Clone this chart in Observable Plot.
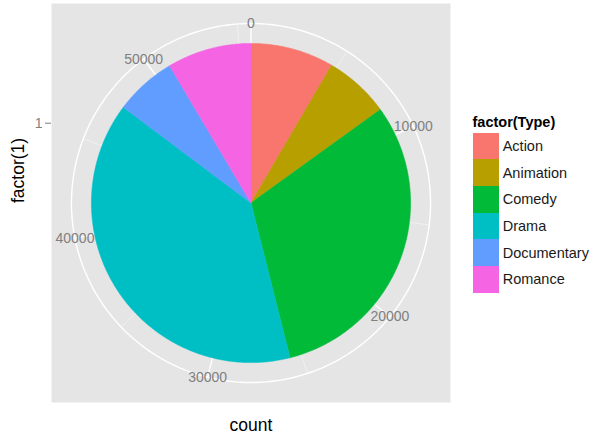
<!DOCTYPE html>
<html>
<head>
<meta charset="utf-8">
<script src="https://cdn.jsdelivr.net/npm/d3@7"></script>
<script src="https://cdn.jsdelivr.net/npm/@observablehq/plot@0.6"></script>
<style>
  html, body { margin: 0; padding: 0; background: #fff; overflow: hidden; }
  #wrap { position: relative; width: 604px; height: 445px; font-family: "Liberation Sans", Arial, sans-serif; }
  #legend { position: absolute; left: 472.5px; top: 114px; }
  #legend .title { font-weight: bold; font-size: 14.5px; line-height: 17px; height: 18.5px; color: #000; white-space: nowrap; }
  #legend .row { display: flex; align-items: center; height: 26.7px; }
  #legend .key { width: 26.7px; height: 26.7px; }
  #legend .lab { margin-left: 3.5px; font-size: 14.5px; color: #1a1a1a; white-space: nowrap; }
</style>
</head>
<body>
<div id="wrap"></div>
<script>
// ---- data ----
const types = ["Action", "Animation", "Comedy", "Drama", "Documentary", "Romance"];
const counts = [4688, 3690, 17271, 21811, 3472, 4744];
const colors = ["#F8766D", "#B79F00", "#00BA38", "#00BFC4", "#619CFF", "#F564E3"];
const thetaBreaks = [0, 10000, 20000, 30000, 40000, 50000];
const thetaMinor = [5000, 15000, 25000, 35000, 45000, 55000];
const rLevels = ["1"];
const legendTitle = "factor(Type)";
const xTitle = "count";
const yTitle = "factor(1)";

// ---- geometry in panel npc units (ggplot coord_polar) ----
const total = d3.sum(counts);
const ang = v => v / total * 2 * Math.PI;
const R = 0.4, ROUT = 0.45;
const px = (r, a) => 0.5 + r * Math.sin(a);
const py = (r, a) => 0.5 + r * Math.cos(a);

const slicePts = [];
let cum = 0;
types.forEach((t, i) => {
  const a0 = ang(cum), a1 = ang(cum + counts[i]);
  cum += counts[i];
  const n = Math.max(2, Math.ceil((a1 - a0) / (Math.PI / 360)) + 1);
  slicePts.push({type: t, x: 0.5, y: 0.5});
  for (let k = 0; k < n; k++) {
    const a = a0 + (a1 - a0) * k / (n - 1);
    slicePts.push({type: t, x: px(R, a), y: py(R, a)});
  }
  slicePts.push({type: t, x: 0.5, y: 0.5});
});

const circlePts = d3.range(0, 361).map(d => ({a: d / 360 * 2 * Math.PI}));
const rPos = rLevels.map((d, i) => 0.5 + (i + 0.5) / rLevels.length * R);

const plot = Plot.plot({
  width: 604,
  height: 445,
  marginLeft: 51,
  marginRight: 154,
  marginTop: 3,
  marginBottom: 43,
  style: {fontFamily: "Liberation Sans, Arial, sans-serif", fontSize: "14px", background: "transparent"},
  x: {domain: [0, 1], axis: null},
  y: {domain: [0, 1]},
  color: {domain: types, range: colors},
  marks: [
    Plot.frame({fill: "#E5E5E5", stroke: "none"}),
    // minor theta grid
    Plot.link(thetaMinor, {x1: () => 0.5, y1: () => 0.5, x2: d => px(ROUT, ang(d)), y2: d => py(ROUT, ang(d)), stroke: "#F2F2F2", strokeWidth: 0.8}),
    // major theta grid
    Plot.link(thetaBreaks, {x1: () => 0.5, y1: () => 0.5, x2: d => px(ROUT, ang(d)), y2: d => py(ROUT, ang(d)), stroke: "#fff", strokeWidth: 1.4}),
    // outer circle
    Plot.line(circlePts, {x: d => px(ROUT, d.a), y: d => py(ROUT, d.a), stroke: "#fff", strokeWidth: 1.4}),
    // pie slices
    Plot.line(slicePts, {x: "x", y: "y", z: "type", fill: "type", stroke: "type", strokeWidth: 0.5, strokeLinejoin: "round"}),
    // theta labels
    Plot.text(thetaBreaks, {x: d => px(ROUT, ang(d)), y: d => py(ROUT, ang(d)), text: d => String(d), fill: "#7F7F7F", fontSize: 14}),
    // r axis
    Plot.axisY(rPos, {tickFormat: (d, i) => rLevels[i] ?? rLevels[0], label: null, tickSize: 6, tickPadding: 3, stroke: "#7F7F7F", fill: "#7F7F7F", fontSize: 14}),
    // axis titles
    Plot.text([xTitle], {frameAnchor: "bottom", dy: 28, text: d => d, fill: "#000", fontSize: 17.5}),
    Plot.text([yTitle], {frameAnchor: "left", dx: -33, rotate: -90, text: d => d, fill: "#000", fontSize: 17.5})
  ]
});

const wrap = document.getElementById("wrap");
wrap.appendChild(plot);

// legend
const color = plot.scale("color");
const lg = document.createElement("div");
lg.id = "legend";
const title = document.createElement("div");
title.className = "title";
title.textContent = legendTitle;
lg.appendChild(title);
color.domain.forEach((t, i) => {
  const row = document.createElement("div");
  row.className = "row";
  const key = document.createElement("div");
  key.className = "key";
  key.style.background = color.range[i];
  const lab = document.createElement("div");
  lab.className = "lab";
  lab.textContent = t;
  row.appendChild(key);
  row.appendChild(lab);
  lg.appendChild(row);
});
wrap.appendChild(lg);
</script>
</body>
</html>
